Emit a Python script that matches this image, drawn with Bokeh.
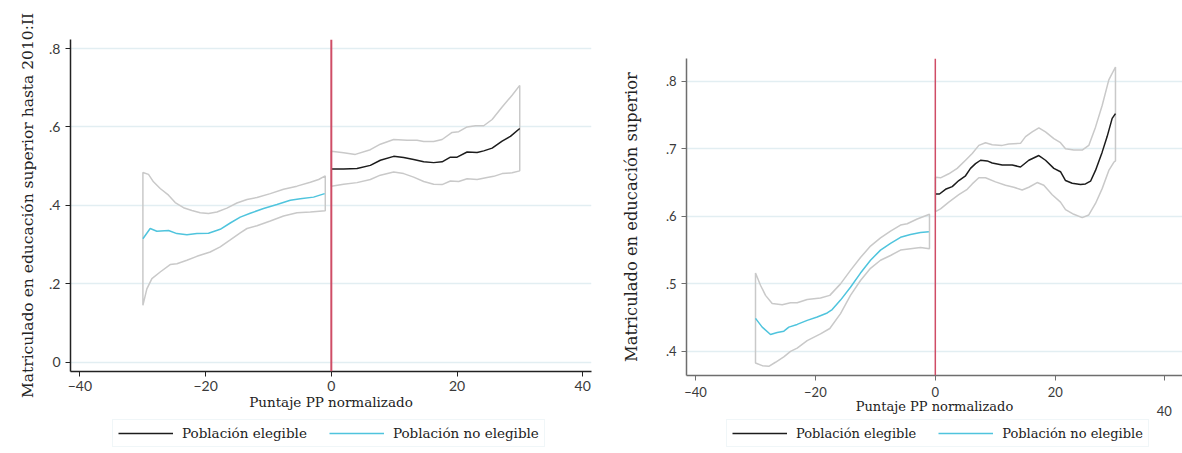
from bokeh.plotting import figure
from bokeh.layouts import row, column
from bokeh.models import Span, FixedTicker, Legend, LegendItem, Range1d
from bokeh.embed import file_html
from bokeh.resources import INLINE

# ---------------- data ----------------
cutoff = 0
x_ticks = [-40, -20, 0, 20, 40]
legend_labels = ["Población elegible", "Población no elegible"]
x_title = "Puntaje PP normalizado"

# Left panel
L_title = "Matriculado en educación superior hasta 2010:II"
L_yticks = [0, 0.2, 0.4, 0.6, 0.8]
L_ytick_labels = ["0", ".2", ".4", ".6", ".8"]

L_elig_x = [0, 1.96, 4.09, 6.21, 7.8, 9.92, 11.51, 13.1, 14.7, 16.29, 17.63, 18.95, 20.02, 21.61, 23.2, 24.25, 25.59, 27.18, 28.5, 29.98]
L_elig_y = [0.493, 0.493, 0.494, 0.502, 0.515, 0.525, 0.522, 0.517, 0.511, 0.509, 0.511, 0.523, 0.523, 0.536, 0.535, 0.539, 0.546, 0.564, 0.576, 0.596]
L_elig_up_x = [0, 1.96, 3.82, 6.21, 7.8, 9.92, 12.05, 13.64, 14.7, 16.29, 17.63, 19.22, 20.27, 21.61, 22.93, 24.25, 25.59, 27.18, 28.77, 29.98]
L_elig_up_y = [0.538, 0.534, 0.530, 0.542, 0.556, 0.568, 0.566, 0.566, 0.563, 0.563, 0.568, 0.586, 0.588, 0.600, 0.603, 0.603, 0.619, 0.651, 0.681, 0.706]
L_elig_lo_x = [0, 1.96, 4.09, 6.21, 7.8, 9.92, 11.51, 13.1, 14.7, 16.29, 17.63, 18.95, 20.27, 21.61, 23.2, 24.79, 25.84, 27.18, 28.77, 29.98]
L_elig_lo_y = [0.449, 0.454, 0.458, 0.466, 0.477, 0.485, 0.481, 0.472, 0.461, 0.454, 0.453, 0.462, 0.461, 0.468, 0.466, 0.471, 0.474, 0.481, 0.483, 0.488]

L_nel_x = [-29.98, -28.82, -27.76, -25.9, -24.57, -22.98, -21.39, -19.54, -17.68, -16.08, -14.49, -12.9, -10.78, -8.65, -6.53, -4.94, -2.82, -1.06]
L_nel_y = [0.315, 0.341, 0.334, 0.336, 0.328, 0.325, 0.328, 0.329, 0.339, 0.355, 0.370, 0.380, 0.392, 0.402, 0.413, 0.417, 0.421, 0.430]
L_nel_up_x = [-29.98, -29.09, -28.3, -27.23, -25.9, -24.84, -23.52, -22.18, -20.86, -19.54, -18.2, -16.61, -15.02, -13.42, -11.83, -9.71, -7.6, -5.46, -3.34, -2.02, -0.96]
L_nel_up_y = [0.484, 0.479, 0.460, 0.443, 0.426, 0.407, 0.394, 0.387, 0.381, 0.379, 0.383, 0.393, 0.406, 0.415, 0.420, 0.430, 0.441, 0.449, 0.459, 0.466, 0.475]
L_nel_lo_x = [-29.98, -29.35, -28.55, -27.23, -25.64, -24.57, -22.98, -21.39, -19.27, -17.68, -16.08, -14.49, -13.42, -11.83, -9.71, -7.6, -5.46, -3.34, -0.96]
L_nel_lo_y = [0.145, 0.187, 0.213, 0.230, 0.249, 0.251, 0.260, 0.270, 0.281, 0.294, 0.312, 0.330, 0.341, 0.348, 0.360, 0.373, 0.381, 0.383, 0.386]

# Right panel
R_title = "Matriculado en educación superior"
R_yticks = [0.4, 0.5, 0.6, 0.7, 0.8]
R_ytick_labels = [".4", ".5", ".6", ".7", ".8"]
R_last_tick_shown_at = 38.2   # the "40" tick is drawn displaced in the source image

R_nel_x = [-29.99, -28.87, -27.49, -26.37, -25.26, -24.43, -23.04, -21.37, -19.7, -18.03, -17.2, -15.81, -14.15, -12.48, -10.81, -9.14, -7.47, -5.8, -4.14, -2.47, -1.08]
R_nel_y = [0.449, 0.436, 0.425, 0.428, 0.430, 0.436, 0.440, 0.446, 0.451, 0.457, 0.462, 0.476, 0.495, 0.516, 0.535, 0.550, 0.560, 0.569, 0.573, 0.576, 0.577]
R_nel_up_x = [-29.99, -29.16, -28.32, -27.21, -25.54, -24.15, -23.04, -21.37, -19.15, -17.6, -15.81, -14.15, -12.48, -10.81, -9.14, -7.47, -5.8, -4.69, -3.02, -0.97]
R_nel_up_y = [0.516, 0.498, 0.483, 0.471, 0.469, 0.472, 0.472, 0.477, 0.479, 0.483, 0.500, 0.520, 0.539, 0.556, 0.568, 0.578, 0.587, 0.589, 0.596, 0.603]
R_nel_lo_x = [-29.99, -28.87, -27.77, -26.66, -25.27, -24.15, -23.04, -21.37, -19.15, -17.6, -15.81, -14.15, -12.48, -10.81, -9.14, -7.47, -5.8, -4.14, -2.47, -0.97]
R_nel_lo_y = [0.383, 0.379, 0.378, 0.384, 0.392, 0.400, 0.405, 0.416, 0.426, 0.434, 0.456, 0.483, 0.505, 0.523, 0.535, 0.542, 0.550, 0.552, 0.554, 0.552]

R_elig_x = [0.03, 0.70, 1.7, 2.82, 3.92, 5.04, 5.87, 6.71, 7.54, 8.66, 9.49, 11.16, 12.83, 14.21, 15.6, 17.27, 18.38, 19.77, 20.88, 21.72, 22.83, 24.22, 25.05, 25.89, 26.72, 27.83, 28.66, 29.5, 30.05]
R_elig_y = [0.633, 0.633, 0.640, 0.644, 0.653, 0.660, 0.671, 0.678, 0.683, 0.682, 0.679, 0.676, 0.676, 0.673, 0.683, 0.690, 0.683, 0.671, 0.666, 0.653, 0.649, 0.647, 0.648, 0.652, 0.668, 0.695, 0.718, 0.745, 0.752]
R_elig_up_x = [0.03, 0.87, 2.25, 3.65, 5.04, 6.16, 7.26, 8.37, 9.49, 11.16, 12.26, 14.21, 15.05, 16.16, 17.27, 18.38, 19.77, 20.88, 21.72, 23.1, 24.5, 25.6, 26.72, 27.83, 28.94, 30.05]
R_elig_up_y = [0.658, 0.657, 0.663, 0.671, 0.683, 0.693, 0.705, 0.709, 0.706, 0.705, 0.707, 0.708, 0.718, 0.725, 0.731, 0.725, 0.715, 0.709, 0.700, 0.698, 0.698, 0.705, 0.732, 0.764, 0.802, 0.821]
R_elig_lo_x = [0.03, 0.87, 2.25, 3.92, 5.32, 6.16, 7.26, 8.37, 10.04, 11.71, 13.09, 14.49, 15.6, 16.99, 18.1, 19.5, 20.88, 21.72, 23.1, 24.5, 25.6, 26.72, 27.83, 28.94, 29.77, 30.05]
R_elig_lo_y = [0.607, 0.611, 0.621, 0.632, 0.640, 0.648, 0.657, 0.657, 0.651, 0.646, 0.643, 0.639, 0.643, 0.650, 0.646, 0.632, 0.621, 0.610, 0.603, 0.598, 0.602, 0.619, 0.641, 0.668, 0.680, 0.682]

# ---------------- style ----------------
BLACK = "#1c1c1c"
CYAN = "#4fc4dd"
GRAY = "#c9c9c9"
RED = "#cf4d66"
GRID = "#e2eef2"
SERIF = "DejaVu Serif"
SANS = "Lato"
TOP_H = 419


def panel(width, xr, yr, borders, yticks, ylabels, ytitle, elig, nel,
          axis_color, tick_size, title_size, xtitle_size,
          ytitle_standoff, red_width, xlabel_standoff):
    p = figure(width=width, height=TOP_H, output_backend="svg", toolbar_location=None,
               x_range=Range1d(*xr), y_range=Range1d(*yr),
               min_border_left=borders[0], min_border_right=borders[1],
               min_border_top=borders[2], min_border_bottom=borders[3])
    p.outline_line_color = None
    p.background_fill_color = "white"
    p.border_fill_color = "white"
    p.xgrid.grid_line_color = None
    p.ygrid.grid_line_color = GRID
    p.ygrid.grid_line_width = 1.5
    p.ygrid.ticker = FixedTicker(ticks=yticks)

    p.xaxis.ticker = FixedTicker(ticks=x_ticks)
    p.yaxis.ticker = FixedTicker(ticks=yticks)
    p.yaxis.major_label_overrides = {t: l for t, l in zip(yticks, ylabels)}
    for ax in (p.xaxis, p.yaxis):
        ax.axis_line_color = axis_color
        ax.axis_line_width = 1.5
        ax.major_tick_line_color = axis_color
        ax.major_tick_out = 5
        ax.major_tick_in = 0
        ax.minor_tick_line_color = None
        ax.major_label_text_font = SANS
        ax.major_label_text_font_size = tick_size
        ax.major_label_text_color = "#3a3a3a"
        ax.axis_label_text_font = SERIF
        ax.axis_label_text_font_style = "normal"
        ax.axis_label_text_color = "#222222"
    p.yaxis.major_label_orientation = "horizontal"
    p.yaxis.major_label_standoff = 5
    p.yaxis.axis_label = ytitle
    p.yaxis.axis_label_text_font_size = title_size
    p.yaxis.axis_label_standoff = ytitle_standoff
    p.xaxis.axis_label = x_title
    p.xaxis.axis_label_text_font_size = xtitle_size
    p.xaxis.axis_label_standoff = 0
    p.xaxis.major_label_standoff = xlabel_standoff

    p.add_layout(Span(location=cutoff, dimension="height", line_color=RED,
                      line_width=red_width))

    for (ux, uy, lx, ly) in (elig[2:6], nel[2:6]):
        p.patch(ux + lx[::-1], uy + ly[::-1], fill_color=None, line_color=GRAY, line_width=1.5)
    p.line(elig[0], elig[1], line_color=BLACK, line_width=1.5)
    p.line(nel[0], nel[1], line_color=CYAN, line_width=1.5)
    return p


def legend_fig(width, height, borders, loc, size, spacing, elig, nel):
    # a strip holding only the legend; its ranges lie away from the data,
    # so the series drawn here only provide the legend keys
    f = figure(width=width, height=height, output_backend="svg", toolbar_location=None,
               x_axis_type=None, y_axis_type=None, min_border=0,
               min_border_left=borders[0], min_border_right=borders[1],
               x_range=Range1d(1000, 1001), y_range=Range1d(1000, 1001))
    f.outline_line_color = None
    f.background_fill_color = "white"
    f.border_fill_color = "white"
    k1 = f.line(elig[0], elig[1], line_color=BLACK, line_width=1.5)
    k2 = f.line(nel[0], nel[1], line_color=CYAN, line_width=1.5)
    legend = Legend(items=[LegendItem(label=legend_labels[0], renderers=[k1]),
                           LegendItem(label=legend_labels[1], renderers=[k2])],
                    orientation="horizontal", location=loc)
    legend.label_text_font = SERIF
    legend.label_text_font_size = size
    legend.label_text_color = "#222222"
    legend.glyph_width = 55
    legend.glyph_height = 16
    legend.label_height = 16
    legend.label_standoff = 9
    legend.spacing = spacing
    legend.padding = 5
    legend.margin = 0
    legend.border_line_color = "#e1edf1"
    legend.border_line_width = 1.5
    legend.background_fill_color = "white"
    f.add_layout(legend)
    return f


p1 = panel(600, (-41.5, 41.4), (-0.0237, 0.823), (70, 9, 39, TOP_H - 371),
           L_yticks, L_ytick_labels, L_title,
           (L_elig_x, L_elig_y, L_elig_up_x, L_elig_up_y, L_elig_lo_x, L_elig_lo_y),
           (L_nel_x, L_nel_y, L_nel_up_x, L_nel_up_y, L_nel_lo_x, L_nel_lo_y),
           "#222222", "14px", "15.5px", "13.5px", 9, 2, 4)

p2 = panel(582, (-41.5, 41.23), (0.3644, 0.8336), (86, 0, 58, TOP_H - 375),
           R_yticks, R_ytick_labels, R_title,
           (R_elig_x, R_elig_y, R_elig_up_x, R_elig_up_y, R_elig_lo_x, R_elig_lo_y),
           (R_nel_x, R_nel_y, R_nel_up_x, R_nel_up_y, R_nel_lo_x, R_nel_lo_y),
           "#6e6e6e", "13px", "16.3px", "13px", 22, 1.5, 3)
p2.xaxis.ticker = FixedTicker(ticks=x_ticks[:-1] + [R_last_tick_shown_at])
p2.xaxis.major_label_overrides = {R_last_tick_shown_at: "\n" + str(x_ticks[-1])}
p2.xaxis.axis_label_standoff = -23

LEG_H = 453 - TOP_H
# legend strips share the panel's frame edges; locations are relative to them
l1 = legend_fig(600, LEG_H, (70, 9), (42, 6), "13.5px", 22, (L_elig_x, L_elig_y), (L_nel_x, L_nel_y))
l2 = legend_fig(582, LEG_H, (86, 0), (40, 6), "13px", 22, (R_elig_x, R_elig_y), (R_nel_x, R_nel_y))

layout = row(column(p1, l1), column(p2, l2))
open("out.html", "w").write(file_html(layout, INLINE))
